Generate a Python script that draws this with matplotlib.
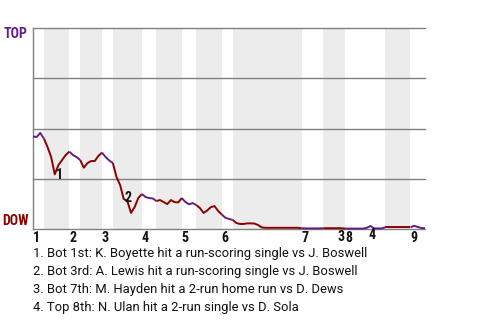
import matplotlib
matplotlib.use("Agg")
import matplotlib.pyplot as plt
from matplotlib import font_manager

# win probability (0 = DOW, 1 = TOP) after each plate appearance
wp = [
    0.460, 0.458, 0.478, 0.450, 0.408, 0.358, 0.272, 0.318, 0.343, 0.368,  # 0-9
    0.385, 0.368, 0.358, 0.343, 0.305, 0.328, 0.338, 0.338, 0.363, 0.380,  # 10-19
    0.358, 0.341, 0.328, 0.259, 0.219, 0.149, 0.139, 0.080, 0.109, 0.154,  # 20-29
    0.174, 0.159, 0.154, 0.152, 0.139, 0.144, 0.134, 0.124, 0.144, 0.134,  # 30-39
    0.132, 0.154, 0.134, 0.123, 0.129, 0.119, 0.104, 0.080, 0.092, 0.109,  # 40-49
    0.114, 0.090, 0.072, 0.056, 0.050, 0.045, 0.030, 0.025, 0.025, 0.028,  # 50-59
    0.028, 0.027, 0.020, 0.008, 0.006, 0.006, 0.006, 0.006, 0.006, 0.006,  # 60-69
    0.006, 0.006, 0.006, 0.006, 0.004, 0.003, 0.003, 0.003, 0.003, 0.003,  # 70-79
    0.004, 0.004, 0.004, 0.004, 0.004, 0.004, 0.002, 0.002, 0.002, 0.002,  # 80-89
    0.002, 0.002, 0.006, 0.015, 0.003, 0.003, 0.003, 0.008, 0.008, 0.008,  # 90-99
    0.008, 0.008, 0.008, 0.008, 0.008, 0.016, 0.010, 0.005, 0.004,         # 100-108
]

# plate appearance index where each half inning starts (top 1st .. top 9th), plus end
half_starts = [0, 3, 10, 13, 19, 22, 30, 34, 41, 45, 52, 55, 74, 80, 86, 97, 104, 108]
innings = ["1", "2", "3", "4", "5", "6", "7", "8", "9"]

event_idx = [6, 26, 85, 93]
event_labels = ["1", "2", "3", "4"]
notes = [
    "1. Bot 1st: K. Boyette hit a run-scoring single vs J. Boswell",
    "2. Bot 3rd: A. Lewis hit a run-scoring single vs J. Boswell",
    "3. Bot 7th: M. Hayden hit a 2-run home run vs D. Dews",
    "4. Top 8th: N. Ulan hit a 2-run single vs D. Sola",
]

PURPLE = "#5e1f86"
RED = "#8b0000"
BAND = "#ececec"
GRID = "#808080"


def pick_font(names):
    for name in names:
        try:
            font_manager.findfont(font_manager.FontProperties(family=name),
                                  fallback_to_default=False)
            return name
        except Exception:
            continue
    return "DejaVu Sans"


COND = pick_font(["Roboto Condensed", "Liberation Sans Narrow", "Roboto"])
plt.rcParams["font.family"] = [COND, "DejaVu Sans"]

fig = plt.figure(figsize=(4.8, 3.2), dpi=100)
ax = fig.add_axes([33 / 480, 91 / 320, 392 / 480, 201 / 320])
ax.set_xlim(0, half_starts[-1])
ax.set_ylim(0, 1)

# shaded bottom halves
for h in range(1, len(half_starts) - 1, 2):
    ax.axvspan(half_starts[h], half_starts[h + 1], color=BAND, lw=0, zorder=0)

for y in [0.25, 0.5, 0.75, 1.0]:
    ax.axhline(y, color=GRID, lw=1.0, zorder=1, clip_on=False)

# line, coloured by half inning
xs = list(range(len(wp)))
for h in range(len(half_starts) - 1):
    a, b = half_starts[h], half_starts[h + 1]
    ax.plot(xs[a:b + 1], wp[a:b + 1], color=PURPLE if h % 2 == 0 else RED,
            lw=1.4, zorder=3, solid_capstyle="butt", clip_on=False)

for sp in ["top", "right"]:
    ax.spines[sp].set_visible(False)
for sp in ["left", "bottom"]:
    ax.spines[sp].set_color(GRID)
    ax.spines[sp].set_linewidth(1.0)
ax.set_xticks([])
ax.set_yticks([])

# inning labels at start of each inning
for i, lab in enumerate(innings):
    ax.annotate(lab, (half_starts[2 * i], 0), xycoords=("data", "axes fraction"),
                xytext=(0, -9), textcoords="offset pixels", ha="left", va="center",
                fontsize=10, fontweight="bold", color="#111111")

# event markers
offsets = [(5, -1), (1, 3), (0, -9), (2, -9)]
for idx, lab, off in zip(event_idx, event_labels, offsets):
    ax.annotate(lab, (idx, wp[idx]), xytext=off, textcoords="offset pixels",
                ha="center", va="center", fontsize=10, fontweight="bold",
                color="#111111", zorder=4, annotation_clip=False)

ax.annotate("TOP", (0, 1), xycoords="axes fraction", xytext=(-5, -6),
            textcoords="offset pixels", ha="right", va="center",
            fontsize=10, fontweight="bold", color=PURPLE)
ax.annotate("DOW", (0, 0), xycoords="axes fraction", xytext=(-4, 8),
            textcoords="offset pixels", ha="right", va="center",
            fontsize=10, fontweight="bold", color=RED)

for k, line in enumerate(notes):
    fig.text(33 / 480, (320 - 254 - 18 * k) / 320, line, ha="left", va="center",
             fontsize=9.4, color="#111111", family=["Roboto", "DejaVu Sans"])

fig.savefig("out.png", dpi=100)
